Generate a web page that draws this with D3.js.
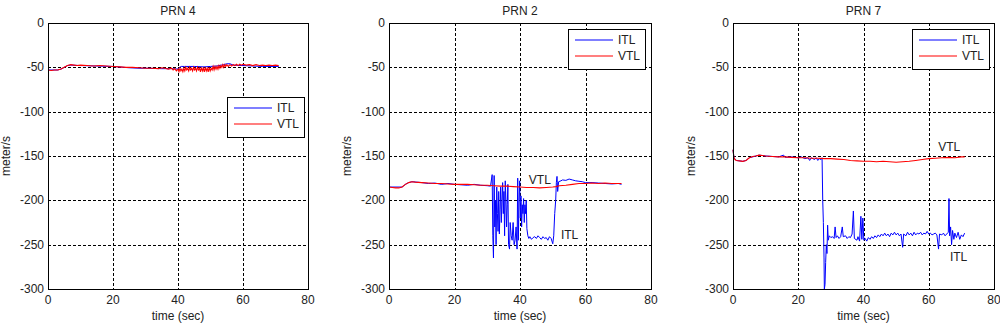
<!DOCTYPE html>
<html>
<head>
<meta charset="utf-8">
<script src="https://cdn.jsdelivr.net/npm/d3@7"></script>
<style>
  body { margin: 0; background: #fff; }
  text { font-family: "Liberation Sans", Arial, sans-serif; font-size: 12px; fill: #222; }
</style>
</head>
<body>
<svg id="chart" width="1000" height="326"></svg>
<script>
// ---- data (time sec, meter/s) ----
const titles = ["PRN 4", "PRN 2", "PRN 7"];
const xTicks = [0, 20, 40, 60, 80];
const yTicks = [0, -50, -100, -150, -200, -250, -300];

const prn4Itl = [[0,-53],[3,-53],[4,-52],[5,-50],[6,-48],[7,-47.5],[10,-48],[15,-48.5],[20,-49],[25,-50.5],[28,-51],[30,-51],[35,-51.5],[38,-51.5],[40,-52],[40.5,-50],[41,-49],[42,-49],[45,-49],[48,-49.5],[50,-49],[52,-48.5],[54,-47],[55,-46],[56,-46],[57,-47.5],[60,-48],[63,-48.5],[66,-49],[68,-49],[71,-49]];
const prn4Vtl = [[0,-53],[1,-53.5],[2,-53],[3,-53],[4,-52],[5,-50],[6,-48],[7,-47],[8,-47.5],[9,-48],[10,-47.5],[12,-48],[14,-48.5],[16,-48],[18,-48.5],[20,-49],[22,-49.5],[24,-50],[26,-50],[28,-50.5],[30,-51],[32,-51],[34,-51.5],[35,-50.5],[36,-51],[37,-52],[38,-51],[38.5,-53],[39,-51.5],[39.5,-54],[40,-52],[40.3,-55],[40.6,-51],[40.9,-54],[41.2,-52],[41.5,-55],[41.8,-51],[42.1,-54],[42.4,-50],[42.7,-53],[43,-51],[43.3,-54],[43.6,-50],[43.9,-53],[44.2,-51],[44.5,-54],[44.8,-50],[45.1,-53],[45.4,-51],[45.7,-54],[46,-50],[46.3,-53],[46.6,-51],[46.9,-55],[47.2,-50],[47.5,-54],[47.8,-51],[48.1,-55],[48.4,-50],[48.7,-54],[49,-51],[49.3,-55],[49.6,-50],[49.9,-54],[50.2,-51],[50.5,-53],[50.8,-49],[51.1,-53],[51.4,-49],[51.7,-52],[52,-49],[52.3,-52],[52.6,-48],[52.9,-51],[53.2,-48],[53.5,-50],[53.8,-47],[54.1,-50],[54.4,-47],[54.7,-49],[55,-47],[55.5,-49],[56,-47],[56.5,-48.5],[57,-47],[57.5,-48],[58,-46.5],[58.5,-48],[59,-46.5],[59.5,-47.5],[60,-46.5],[61,-47.5],[62,-47],[63,-48],[64,-47],[65,-48],[66,-47.5],[67,-48],[68,-47.5],[69,-48],[70,-47.5],[71,-48]];

const prn2Itl = [[0,-185],[4,-185],[5,-182],[6,-180],[7,-179],[10,-180],[12,-181],[14,-180.5],[16,-182],[18,-181],[20,-182],[22,-182.5],[24,-183],[26,-182],[28,-183],[30,-183.5],[31,-184],[31.5,-171],[31.7,-240],[31.9,-265],[32.1,-172],[32.3,-230],[32.5,-200],[32.7,-250],[32.9,-185],[33.1,-215],[33.3,-235],[33.5,-190],[33.7,-238],[33.9,-210],[34.1,-185],[34.3,-225],[34.5,-200],[34.7,-180],[34.9,-215],[35.1,-190],[35.3,-240],[35.5,-178],[35.7,-200],[35.9,-230],[36.1,-205],[36.3,-182],[36.5,-250],[36.8,-255],[37,-225],[37.3,-240],[37.6,-245],[37.9,-225],[38.2,-250],[38.5,-245],[38.8,-230],[39.1,-255],[39.3,-175],[39.5,-245],[39.7,-200],[39.9,-178],[40.1,-220],[40.3,-195],[40.5,-230],[40.7,-205],[40.9,-215],[41.1,-198],[41.3,-225],[41.5,-205],[41.7,-215],[41.9,-200],[42.1,-232],[42.4,-240],[42.7,-243],[43,-241],[43.5,-244],[44,-242],[44.5,-241],[45,-243],[45.5,-240],[46,-242],[46.5,-244],[47,-241],[47.5,-243],[48,-242],[48.5,-245],[49,-241],[49.5,-243],[50,-249],[50.3,-240],[50.6,-215],[50.9,-200],[51.1,-180],[51.3,-173],[51.5,-190],[51.8,-179],[52.5,-178],[53,-177],[54,-177.5],[55,-176],[56,-177],[57,-178],[58,-178.5],[59,-179],[60,-180],[62,-180],[64,-180.5],[66,-181],[68,-181.5],[70,-181],[71,-182]];
const prn2Vtl = [[0,-185],[1,-185.5],[2,-186],[3,-186],[4,-185],[5,-182],[6,-180],[7,-179],[8,-179.5],[10,-180],[12,-180.5],[14,-181],[16,-181],[18,-181.5],[20,-182],[22,-182],[24,-182],[26,-182.5],[28,-183],[30,-183],[32,-183.5],[34,-184],[36,-184],[38,-184.5],[40,-185],[42,-185.5],[44,-185.5],[46,-186],[48,-185.5],[50,-185],[51,-184.5],[52,-183.5],[54,-183],[56,-182],[58,-181],[60,-181],[62,-180.5],[64,-181],[66,-180.5],[68,-181],[70,-181],[71,-181]];

const prn7Itl = [[0,-143],[0.3,-152],[1,-155],[3,-156],[4,-155],[5,-152],[7,-150],[8,-149],[10,-150],[12,-150.5],[14,-151],[15.5,-149],[16,-151.5],[18,-151],[20,-152],[21,-151],[22,-153],[23,-152],[23.5,-155],[24,-152],[25,-154],[25.5,-152],[26,-155],[26.5,-153],[27,-154],[27.3,-152],[27.5,-200],[27.7,-225],[27.9,-265],[28,-300],[28.2,-295],[28.4,-270],[28.6,-250],[28.8,-260],[29,-228],[29.2,-245],[29.5,-240],[30,-242],[30.5,-241],[31,-243],[31.3,-230],[31.6,-242],[32,-240],[32.5,-243],[33,-241],[33.5,-230],[33.8,-241],[34.5,-240],[35,-243],[35.5,-241],[36,-242],[36.5,-238],[36.9,-212],[37.2,-243],[38,-245],[38.3,-241],[38.8,-246],[39.2,-218],[39.5,-244],[39.8,-220],[40.1,-245],[40.5,-243],[41,-246],[41.5,-242],[42,-244],[42.5,-241],[43,-243],[43.5,-240],[44,-242],[44.5,-239],[45,-241],[45.5,-238],[46,-240],[46.5,-237],[47,-240],[47.5,-238],[48,-241],[48.5,-237],[49,-239],[49.5,-236],[50,-239],[50.5,-237],[51,-240],[51.5,-238],[52,-253],[52.3,-238],[53,-240],[53.5,-236],[54,-239],[54.5,-237],[55,-240],[55.5,-236],[56,-239],[56.5,-237],[57,-238],[57.5,-236],[58,-239],[58.5,-237],[59,-238],[59.5,-235],[60,-238],[60.5,-237],[61,-239],[61.5,-238],[62,-237],[62.5,-239],[63,-255],[63.3,-238],[64,-239],[64.5,-237],[65,-240],[65.5,-238],[66,-236],[66.2,-198],[66.4,-240],[66.7,-230],[67,-250],[67.3,-234],[67.7,-244],[68,-237],[68.5,-242],[69,-236],[69.5,-244],[70,-239],[70.5,-241],[71,-237]];
const prn7Vtl = [[0,-143],[0.3,-152],[0.6,-154],[1,-155],[2,-155.5],[3,-156],[4,-155],[5,-152],[6,-150.5],[7,-150],[8,-149],[9,-149.5],[10,-150],[12,-150.5],[14,-151],[16,-151],[18,-151.5],[20,-152],[22,-152],[24,-152.5],[26,-152.5],[28,-153],[30,-153],[32,-153.5],[34,-154],[36,-155],[38,-155.5],[40,-156],[42,-156],[44,-156.5],[46,-156],[48,-156.5],[50,-157],[52,-156.5],[54,-156],[56,-155],[58,-154],[60,-153],[62,-152.5],[64,-152],[66,-151.5],[68,-152],[70,-151],[71,-151]];

// annotations in data coords: [label, t, value]
const notes = [
  [],
  [["VTL", 42.7, -177], ["ITL", 52.5, -239]],
  [["VTL", 62.9, -140], ["ITL", 66.5, -264]]
];

const panels = [
  { title: titles[0], itl: prn4Itl, vtl: prn4Vtl, left: 48, right: 308, legendTop: 97, notes: notes[0] },
  { title: titles[1], itl: prn2Itl, vtl: prn2Vtl, left: 389, right: 651, legendTop: 29, notes: notes[1] },
  { title: titles[2], itl: prn7Itl, vtl: prn7Vtl, left: 733, right: 994, legendTop: 29, notes: notes[2] }
];

const plotTop = 23, plotBottom = 289;
const svg = d3.select("#chart");
svg.append("rect").attr("width", 1000).attr("height", 326).attr("fill", "#fff");

panels.forEach((p) => {
  const x = d3.scaleLinear().domain([0, 80]).range([p.left, p.right]);
  const y = d3.scaleLinear().domain([-300, 0]).range([plotBottom, plotTop]);
  const g = svg.append("g");

  // grid
  g.selectAll(".vg")
    .data(xTicks.slice(1, -1))
    .join("line")
    .attr("x1", (d) => Math.round(x(d)) + 0.5)
    .attr("x2", (d) => Math.round(x(d)) + 0.5)
    .attr("y1", plotTop).attr("y2", plotBottom)
    .attr("stroke", "#000").attr("stroke-dasharray", "3,2");
  g.selectAll(".hg")
    .data(yTicks.slice(1, -1))
    .join("line")
    .attr("y1", (d) => Math.round(y(d)) + 0.5)
    .attr("y2", (d) => Math.round(y(d)) + 0.5)
    .attr("x1", p.left).attr("x2", p.right)
    .attr("stroke", "#000").attr("stroke-dasharray", "3,2");

  // series
  const line = d3.line().x((d) => x(d[0])).y((d) => y(d[1]));
  g.append("path").datum(p.itl)
    .attr("fill", "none").attr("stroke", "#0000ff").attr("stroke-width", 1)
    .attr("d", line);
  g.append("path").datum(p.vtl)
    .attr("fill", "none").attr("stroke", "#ff0000").attr("stroke-width", 1.1)
    .attr("d", line);

  // box
  g.append("rect")
    .attr("x", p.left + 0.5).attr("y", plotTop + 0.5)
    .attr("width", p.right - p.left).attr("height", plotBottom - plotTop)
    .attr("fill", "none").attr("stroke", "#000");

  // tick labels
  g.selectAll(".xt")
    .data(xTicks)
    .join("text")
    .attr("x", (d) => x(d)).attr("y", plotBottom + 15)
    .attr("text-anchor", "middle")
    .text((d) => d);
  g.selectAll(".yt")
    .data(yTicks)
    .join("text")
    .attr("x", p.left - 4).attr("y", (d) => y(d) + 4)
    .attr("text-anchor", "end")
    .text((d) => d);

  // titles
  g.append("text")
    .attr("x", (p.left + p.right) / 2).attr("y", 15)
    .attr("text-anchor", "middle").text(p.title);
  g.append("text")
    .attr("x", (p.left + p.right) / 2).attr("y", 320)
    .attr("text-anchor", "middle").text("time (sec)");
  g.append("text")
    .attr("transform", `translate(${p.left - 38},${(plotTop + plotBottom) / 2}) rotate(-90)`)
    .attr("text-anchor", "middle").text("meter/s");

  // in-plot labels
  g.selectAll(".note")
    .data(p.notes)
    .join("text")
    .attr("x", (d) => x(d[1])).attr("y", (d) => y(d[2]) + 4)
    .text((d) => d[0]);

  // legend
  const lx = p.left + 179, ly = p.legendTop;
  const lg = g.append("g").attr("transform", `translate(${lx},${ly})`);
  lg.append("rect").attr("x", 0.5).attr("y", 0.5).attr("width", 77).attr("height", 40)
    .attr("fill", "#fff").attr("stroke", "#000");
  [["ITL", "#0000ff", 11], ["VTL", "#ff0000", 27]].forEach(([name, col, yy]) => {
    lg.append("line").attr("x1", 7).attr("x2", 45).attr("y1", yy).attr("y2", yy)
      .attr("stroke", col).attr("stroke-width", 1.2);
    lg.append("text").attr("x", 50).attr("y", yy + 4).text(name);
  });
});
</script>
</body>
</html>
